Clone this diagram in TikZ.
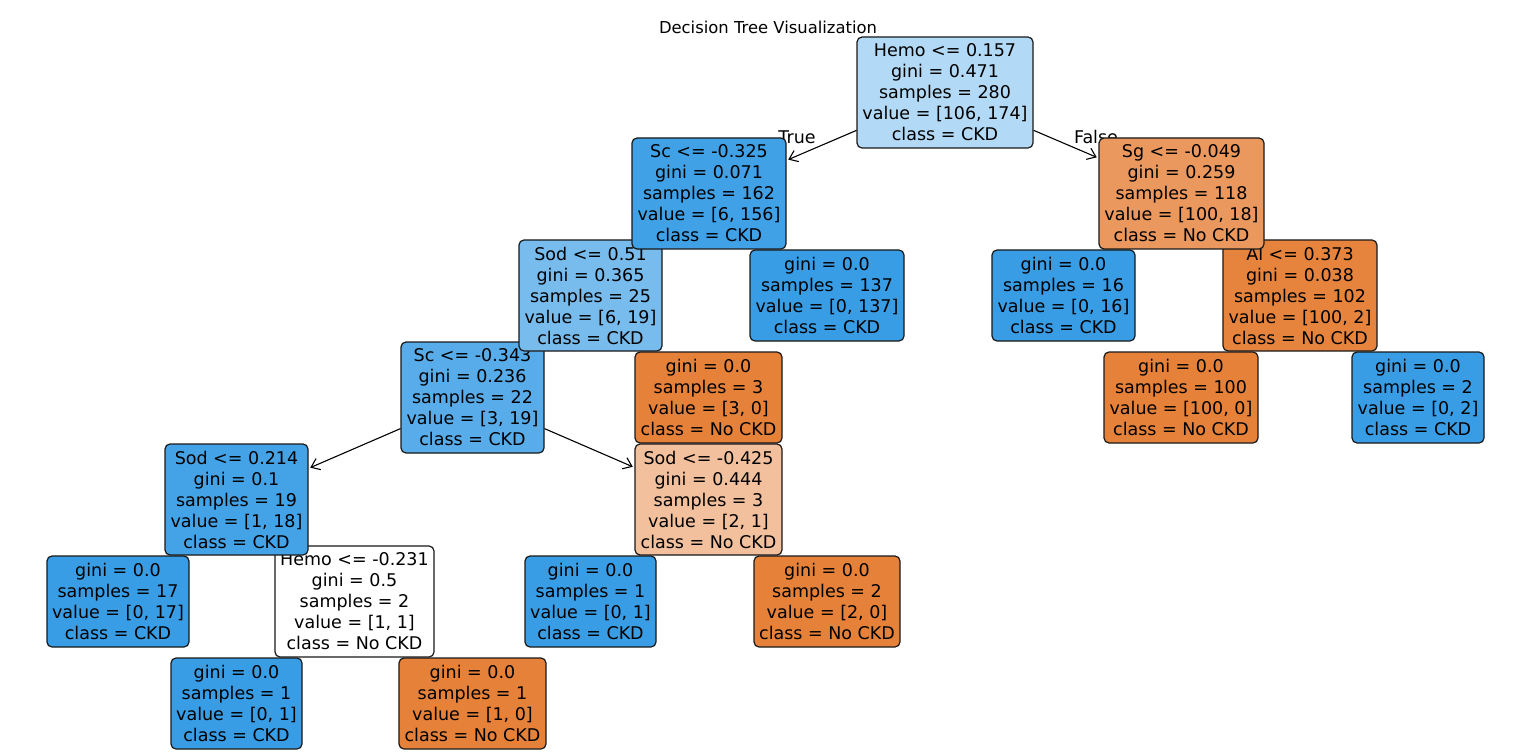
\documentclass[tikz,border=0pt]{standalone}
\usepackage{fontspec}
\setmainfont{DejaVu Sans}
\usetikzlibrary{arrows.meta}
\definecolor{cblue}{RGB}{57,157,229}
\definecolor{corange}{RGB}{229,129,57}
\definecolor{c0}{RGB}{178,217,245}
\definecolor{c1}{RGB}{65,161,230}
\definecolor{c2}{RGB}{234,152,93}
\definecolor{c3}{RGB}{120,188,237}
\definecolor{c6}{RGB}{230,132,61}
\definecolor{c7}{RGB}{88,172,233}
\definecolor{c11}{RGB}{68,163,231}
\definecolor{c12}{RGB}{242,192,156}
\definecolor{edgec}{RGB}{25,25,25}
\tikzset{
  tnode/.style n args={3}{draw=edgec, line width=0.6pt, rounded corners=2.5pt,
    fill=#3, minimum width=#1*0.5pt, minimum height=#2*0.5pt, inner sep=0pt,
    align=center, font=\fontsize{8.75}{10.5}\selectfont},
  edgearrow/.style={draw=black, line width=0.55pt, -{Straight Barb[length=4pt,width=6pt]}, shorten >=1pt},
  lbl/.style={font=\fontsize{8.75}{10.5}\selectfont, inner sep=0pt},
}
\begin{document}
\begin{tikzpicture}[x=0.5pt,y=-0.5pt]
\useasboundingbox (0,0) rectangle (1536,754);
% coordinates of node centres
\coordinate (p0) at (945,92.5);
\coordinate (p1) at (709,193.5);
\coordinate (p2) at (1181.5,193.5);
\coordinate (p7) at (472.5,397.5);
\coordinate (p11) at (236.5,499.5);
\coordinate (p12) at (708.5,499.5);
% invisible helper nodes for connector clipping
\node[minimum width=88pt, minimum height=55.5pt, inner sep=0pt] (h0) at (p0) {};
\node[minimum width=77pt, minimum height=55.5pt, inner sep=0pt] (h1) at (p1) {};
\node[minimum width=82.5pt, minimum height=55.5pt, inner sep=0pt] (h2) at (p2) {};
\node[minimum width=71.5pt, minimum height=55.5pt, inner sep=0pt] (h7) at (p7) {};
\node[minimum width=71.5pt, minimum height=55.5pt, inner sep=0pt] (h11) at (p11) {};
\node[minimum width=73.5pt, minimum height=55.5pt, inner sep=0pt] (h12) at (p12) {};
% connectors
\draw[edgearrow] (h0) -- (h1);
\draw[edgearrow] (h0) -- (h2);
\draw[edgearrow] (h7) -- (h11);
\draw[edgearrow] (h7) -- (h12);
% title and edge labels
\node[font=\fontsize{8.2}{10}\selectfont, inner sep=0pt] (title) at (768,27) {Decision Tree Visualization};
\node[lbl] (ltrue) at (797,137) {True};
\node[lbl] (lfalse) at (1096,137) {False};
% depth 6
\node[tnode={131}{91}{cblue}] (n17) at (236.5,703.5) {gini = 0.0\\samples = 1\\value = [0, 1]\\class = CKD};
\node[tnode={147}{91}{corange}] (n18) at (472.5,703.5) {gini = 0.0\\samples = 1\\value = [1, 0]\\class = No CKD};
% depth 5
\node[tnode={142}{91}{cblue}] (n13) at (118,601.5) {gini = 0.0\\samples = 17\\value = [0, 17]\\class = CKD};
\node[tnode={159}{111}{white}] (n14) at (354.5,601.5) {Hemo <= -0.231\\gini = 0.5\\samples = 2\\value = [1, 1]\\class = No CKD};
\node[tnode={131}{91}{cblue}] (n15) at (590.5,601.5) {gini = 0.0\\samples = 1\\value = [0, 1]\\class = CKD};
\node[tnode={146}{91}{corange}] (n16) at (827,601.5) {gini = 0.0\\samples = 2\\value = [2, 0]\\class = No CKD};
% depth 4
\node[tnode={143}{111}{c11}] (n11) at (p11) {Sod <= 0.214\\gini = 0.1\\samples = 19\\value = [1, 18]\\class = CKD};
\node[tnode={147}{111}{c12}] (n12) at (p12) {Sod <= -0.425\\gini = 0.444\\samples = 3\\value = [2, 1]\\class = No CKD};
% depth 3
\node[tnode={143}{111}{c7}] (n7) at (p7) {Sc <= -0.343\\gini = 0.236\\samples = 22\\value = [3, 19]\\class = CKD};
\node[tnode={147}{91}{corange}] (n8) at (708.5,397.5) {gini = 0.0\\samples = 3\\value = [3, 0]\\class = No CKD};
\node[tnode={154}{91}{corange}] (n9) at (1181,397.5) {gini = 0.0\\samples = 100\\value = [100, 0]\\class = No CKD};
\node[tnode={132}{91}{cblue}] (n10) at (1418,397.5) {gini = 0.0\\samples = 2\\value = [0, 2]\\class = CKD};
% depth 2
\node[tnode={143}{111}{c3}] (n3) at (590.5,295.5) {Sod <= 0.51\\gini = 0.365\\samples = 25\\value = [6, 19]\\class = CKD};
\node[tnode={154}{91}{cblue}] (n4) at (827,295.5) {gini = 0.0\\samples = 137\\value = [0, 137]\\class = CKD};
\node[tnode={143}{91}{cblue}] (n5) at (1063.5,295.5) {gini = 0.0\\samples = 16\\value = [0, 16]\\class = CKD};
\node[tnode={154}{111}{c6}] (n6) at (1300,295.5) {Al <= 0.373\\gini = 0.038\\samples = 102\\value = [100, 2]\\class = No CKD};
% depth 1
\node[tnode={154}{111}{c1}] (n1) at (p1) {Sc <= -0.325\\gini = 0.071\\samples = 162\\value = [6, 156]\\class = CKD};
\node[tnode={165}{111}{c2}] (n2) at (p2) {Sg <= -0.049\\gini = 0.259\\samples = 118\\value = [100, 18]\\class = No CKD};
% depth 0
\node[tnode={176}{111}{c0}] (n0) at (p0) {Hemo <= 0.157\\gini = 0.471\\samples = 280\\value = [106, 174]\\class = CKD};
\end{tikzpicture}
\end{document}
